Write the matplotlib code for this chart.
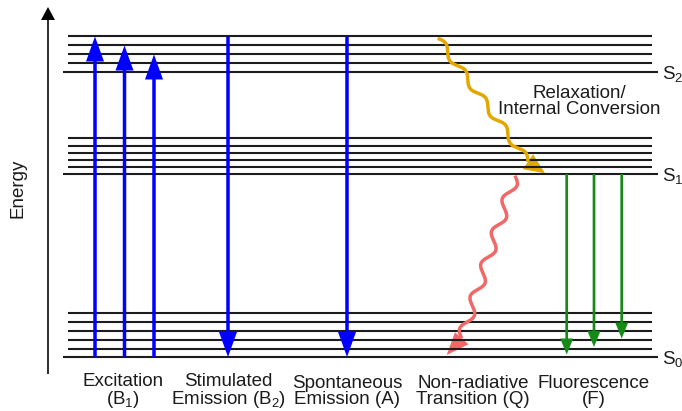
"""Jablonski-style energy diagram: S0/S1/S2 manifolds with the radiative and
non-radiative transitions between them."""

import matplotlib

matplotlib.use("Agg")

import matplotlib.pyplot as plt
import numpy as np

BLUE = "#0000ff"
GREEN = "#168a16"
GOLD = "#e4a700"
SALMON = "#f06868"
INK = "#1c1c1c"

# vibrational levels of each electronic state (energy, ground level first)
S0_LEVELS = [54, 62, 71, 80, 89, 98]
S1_LEVELS = [237, 244, 251, 258, 265, 273]
S2_LEVELS = [338.5, 347.5, 356.5, 365.5, 374.5]
STATE_NAMES = ["S$_0$", "S$_1$", "S$_2$"]

# straight transitions
EXCITATION_X = [95, 124.5, 154]
EXCITATION_TOP = [374.5, 365.5, 356.5]
STIMULATED_X = 228
SPONTANEOUS_X = 347
FLUORESCENCE_X = [566.7, 594, 621.7]
FLUORESCENCE_END = [56.5, 64, 72.5]

# wavy transitions: start, head base, head tip
RELAX_PATH = [(437.7, 372.7), (528, 249.3), (545, 237.7)]
QUENCH_PATH = [(515, 235.3), (461.7, 72.7), (446.7, 56)]

PROCESS_LABELS = [
    "Excitation\n(B$_1$)",
    "Stimulated\nEmission (B$_2$)",
    "Spontaneous\nEmission (A)",
    "Non-radiative\nTransition (Q)",
    "Fluorescence\n(F)",
]
PROCESS_X = [123, 228.5, 347, 473, 594]

plt.rcParams["font.family"] = ["Liberation Sans", "DejaVu Sans"]
plt.rcParams["mathtext.default"] = "regular"


def wavy_arrow(ax, path, color, turns, amp):
    (x0, y0), (x1, y1), (xt, yt) = path
    t = np.linspace(0, 1, 400)
    dx, dy = x1 - x0, y1 - y0
    length = np.hypot(dx, dy)
    nx, ny = -dy / length, dx / length
    off = amp * np.sin(2 * np.pi * turns * t)
    ax.plot(x0 + dx * t + nx * off, y0 + dy * t + ny * off, color=color, lw=2.5,
            solid_capstyle="butt", solid_joinstyle="round")
    head = np.hypot(xt - x1, yt - y1)
    ax.arrow(x1, y1, xt - x1, yt - y1, width=0.1, head_width=18, head_length=head,
             length_includes_head=True, color=color, lw=0)


fig = plt.figure(figsize=(6.82, 4.11), dpi=100)
ax = fig.add_axes([0, 0, 1, 1])
ax.set_xlim(0, 682)
ax.set_ylim(0, 411)
ax.axis("off")

# energy axis
ax.arrow(48, 37, 0, 367, width=1.6, head_width=14, head_length=13,
         length_includes_head=True, color="black", lw=0)
ax.text(18, 223, "Energy", rotation=90, ha="center", va="center", fontsize=13.5, color=INK)

# level ladders
for levels, name in zip([S0_LEVELS, S1_LEVELS, S2_LEVELS], STATE_NAMES):
    ax.hlines(levels[1:], 68, 652, color=INK, lw=1.5)
    ax.hlines(levels[0], 63, 658, color=INK, lw=1.5)
    ax.text(662, levels[0] - 6.5, name, ha="left", va="baseline", fontsize=13.5, color=INK)

# excitation (up) and emission (down)
for x, top in zip(EXCITATION_X, EXCITATION_TOP):
    ax.arrow(x, S0_LEVELS[0], 0, top - S0_LEVELS[0], width=3.5, head_width=18,
             head_length=25, length_includes_head=True, color=BLUE, lw=0, zorder=3)
for x in [STIMULATED_X, SPONTANEOUS_X]:
    ax.arrow(x, S2_LEVELS[-1], 0, S0_LEVELS[0] - S2_LEVELS[-1], width=3.5, head_width=18,
             head_length=25, length_includes_head=True, color=BLUE, lw=0, zorder=3)
for x, end in zip(FLUORESCENCE_X, FLUORESCENCE_END):
    ax.arrow(x, S1_LEVELS[0], 0, end - S1_LEVELS[0], width=2.7, head_width=13,
             head_length=16, length_includes_head=True, color=GREEN, lw=0, zorder=3)

wavy_arrow(ax, RELAX_PATH, GOLD, turns=4.5, amp=3.5)
wavy_arrow(ax, QUENCH_PATH, SALMON, turns=5, amp=5)

ax.text(579, 296.7, "Relaxation/\nInternal Conversion", ha="center", va="baseline",
        multialignment="center", linespacing=0.92, fontsize=13.5, color=INK)

for x, label in zip(PROCESS_X, PROCESS_LABELS):
    ax.text(x, 7, label, ha="center", va="baseline", multialignment="center",
            linespacing=0.92, fontsize=13.5, color=INK)

fig.savefig("out.png", dpi=100)
